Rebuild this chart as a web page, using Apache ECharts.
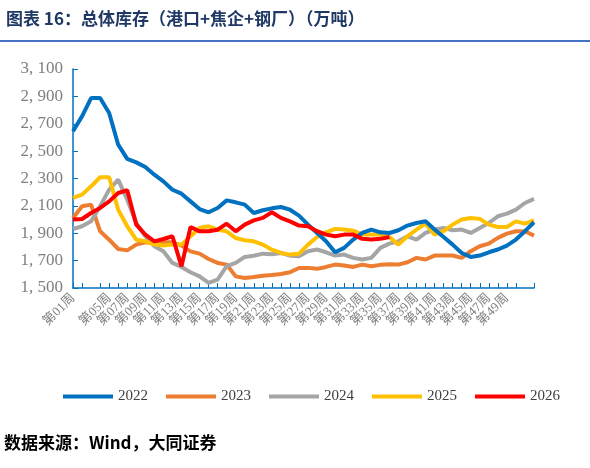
<!DOCTYPE html>
<html><head><meta charset="utf-8">
<script src="https://cdn.jsdelivr.net/npm/echarts@6/dist/echarts.min.js"></script>
<style>body{margin:0;background:#fff}#c{width:590px;height:468px}</style>
</head><body><div id="c"></div>
<script>
const weeks = Array.from({length:52},(_, i)=>'第'+String(i+1).padStart(2,'0')+'周');
const yTicks = [1500,1700,1900,2100,2300,2500,2700,2900,3100];
const s2022 = [2645,2754,2888,2888,2779,2547,2443,2418,2384,2328,2279,2218,2189,2133,2077,2053,2085,2140,2126,2109,2048,2068,2082,2092,2072,2029,1963,1902,1842,1761,1793,1854,1902,1927,1907,1902,1922,1956,1975,1987,1927,1873,1817,1756,1727,1737,1761,1781,1810,1854,1915,1980];
const s2023 = [2012,2097,2109,1914,1853,1785,1775,1817,1834,1829,1834,1834,1810,1768,1751,1712,1683,1671,1585,1573,1580,1590,1595,1602,1615,1646,1647,1640,1654,1671,1664,1654,1671,1659,1669,1674,1671,1688,1720,1708,1737,1737,1737,1720,1769,1805,1824,1866,1897,1915,1915,1883];
const s2024 = [1931,1951,1987,2097,2219,2292,2145,1975,1878,1805,1768,1683,1654,1615,1585,1537,1561,1659,1683,1727,1736,1751,1746,1756,1736,1732,1769,1781,1761,1737,1744,1720,1708,1720,1793,1824,1841,1878,1854,1902,1927,1939,1922,1927,1902,1939,1975,2024,2043,2073,2121,2151];
const s2025 = [2158,2182,2243,2309,2309,2072,1951,1853,1841,1817,1810,1817,1817,1878,1939,1951,1926,1914,1865,1849,1841,1817,1780,1756,1744,1751,1817,1873,1907,1932,1927,1919,1890,1890,1890,1873,1817,1878,1927,1970,1890,1915,1963,2000,2012,2005,1963,1946,1946,1987,1970,1995];
const s2026 = [2000,2004,2048,2085,2133,2194,2214,1963,1890,1841,1858,1878,1658,1946,1914,1914,1926,1970,1914,1963,1994,2012,2053,2012,1987,1956,1951,1915,1890,1878,1890,1890,1859,1854,1859,1873];
const names = ['2022','2023','2024','2025','2026'];
const colors = ['#0070C0','#ED7D31','#A5A5A5','#FFC000','#FF0000'];
const all = [s2022,s2023,s2024,s2025,s2026];
const serif = '"Liberation Serif","Noto Sans CJK SC",serif';
const chart = echarts.init(document.getElementById('c'));
chart.setOption({
  animation:false,
  graphic:[
    {type:'text',left:6,top:10,style:{text:'图表 16：总体库存（港口+焦企+钢厂）（万吨）',font:'bold 17px "Noto Sans CJK SC"',fill:'#1F3864'}},
    {type:'rect',shape:{x:0,y:40,width:590,height:2},style:{fill:'#4472C4'}},
    {type:'text',left:4,top:434,style:{text:'数据来源：Wind，大同证券',font:'bold 17px "Noto Sans CJK SC"',fill:'#000'}}
  ],
  legend:{top:384,left:58,itemWidth:50,itemHeight:4,itemGap:18,icon:'rect',
    textStyle:{fontFamily:serif,fontSize:15,color:'#404040'},data:names},
  grid:{left:73,right:56,top:69,bottom:180},
  xAxis:{type:'category',data:weeks,boundaryGap:false,
    axisLine:{lineStyle:{color:'#0070C0',width:1.5}},
    axisTick:{inside:true,interval:0,length:5,lineStyle:{color:'#0070C0'}},
    axisLabel:{interval:1,rotate:45,showMinLabel:true,hideOverlap:false,color:'#7F7F7F',fontFamily:serif,fontSize:13}},
  yAxis:{type:'value',min:1500,max:3100,interval:200,
    axisLine:{show:true,lineStyle:{color:'#0070C0',width:1.5}},
    axisTick:{show:true,inside:true,length:5,lineStyle:{color:'#0070C0'}},
    splitLine:{show:false},
    axisLabel:{color:'#7F7F7F',fontFamily:serif,fontSize:17,margin:10,
      formatter:v=>yTicks.includes(v)?v.toLocaleString('en-US').replace(',',', '):''}},
  series:all.map((d,i)=>({name:names[i],type:'line',data:d,symbol:'none',
    lineStyle:{width:4,color:colors[i]},itemStyle:{color:colors[i]},z:i===4?10:(i===0?9:5)}))
});
</script></body></html>
